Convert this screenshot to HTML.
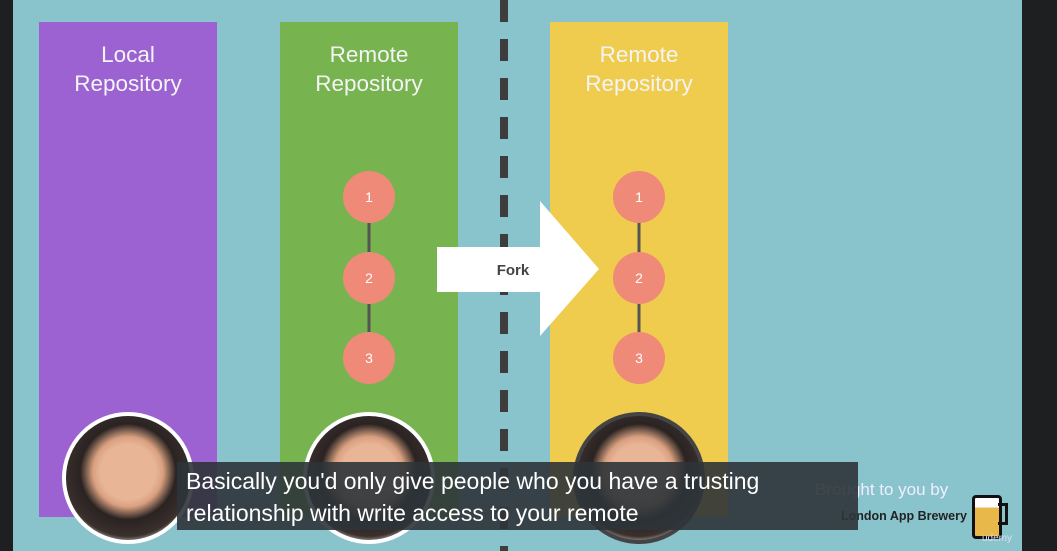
<!DOCTYPE html>
<html><head><style>
body{margin:0;width:1057px;height:551px;background:#1e1f20;position:relative;overflow:hidden;font-family:"Liberation Sans",sans-serif}
.bg{position:absolute;left:13px;top:0;width:1009px;height:551px;background:#89c4cd}
.col{position:absolute;top:22px;width:178px;height:495px;color:#f4f4f4;text-align:center;font-size:22.5px;line-height:29px;padding-top:18px;box-sizing:border-box}
.c{position:absolute;width:52px;height:52px;border-radius:50%;background:#ef8a78;color:#fff;font-size:14px;line-height:52px;text-align:center}
.av{position:absolute;width:124px;height:124px;border-radius:50%;border:4px solid #fff;background:radial-gradient(circle at 50% 45%,#e8b597 0 30%,#d9a080 38%,#2a2322 52%,#3a302d 70%,#ddd 80%);}
</style></head><body>
<div class="bg"></div>
<div class="col" style="left:39px;background:#9c62d2">Local<br>Repository</div>
<div class="col" style="left:280px;background:#77b450">Remote<br>Repository</div>
<div class="col" style="left:550px;background:#efcc4d">Remote<br>Repository</div>
<svg style="position:absolute;left:0;top:0" width="1057" height="551">
<line x1="504" y1="0" x2="504" y2="551" stroke="#3d3d3d" stroke-width="8" stroke-dasharray="22 17"/>
<line x1="369" y1="197" x2="369" y2="358" stroke="#555" stroke-width="3"/>
<line x1="639" y1="197" x2="639" y2="358" stroke="#555" stroke-width="3"/>
<polygon points="437,247 540,247 540,201 599,269 540,336 540,292 437,292" fill="#fff"/>
<text x="513" y="275" font-size="15" font-weight="bold" fill="#444" text-anchor="middle" font-family="Liberation Sans">Fork</text>
</svg>
<div class="c" style="left:343px;top:171px">1</div>
<div class="c" style="left:343px;top:252px">2</div>
<div class="c" style="left:343px;top:332px">3</div>
<div class="c" style="left:613px;top:171px">1</div>
<div class="c" style="left:613px;top:252px">2</div>
<div class="c" style="left:613px;top:332px">3</div>
<div class="av" style="left:62px;top:412px"></div>
<div class="av" style="left:303px;top:412px"></div>
<div class="av" style="left:573px;top:412px;border-color:#444"></div>
<div style="position:absolute;left:815px;top:480px;color:#eef;font-size:17px">Brought to you by</div>
<div style="position:absolute;left:841px;top:509px;color:#222;font-size:12.5px;font-weight:bold">London App Brewery</div>
<div style="position:absolute;left:972px;top:495px;width:24px;height:38px;border:3px solid #111;border-radius:4px;background:linear-gradient(#fff 25%,#e8b94a 25%)"></div>
<div style="position:absolute;left:998px;top:503px;width:7px;height:16px;border:3px solid #111;border-left:none"></div>
<div style="position:absolute;left:982px;top:533px;color:#dde;font-size:10px">udemy</div>
<div style="position:absolute;left:177px;top:462px;width:681px;height:68px;background:rgba(45,52,56,.9);color:#fff;font-size:23px;line-height:32px;padding:3px 9px;box-sizing:border-box;white-space:nowrap">Basically you'd only give people who you have a trusting<br>relationship with write access to your remote</div>
</body></html>
